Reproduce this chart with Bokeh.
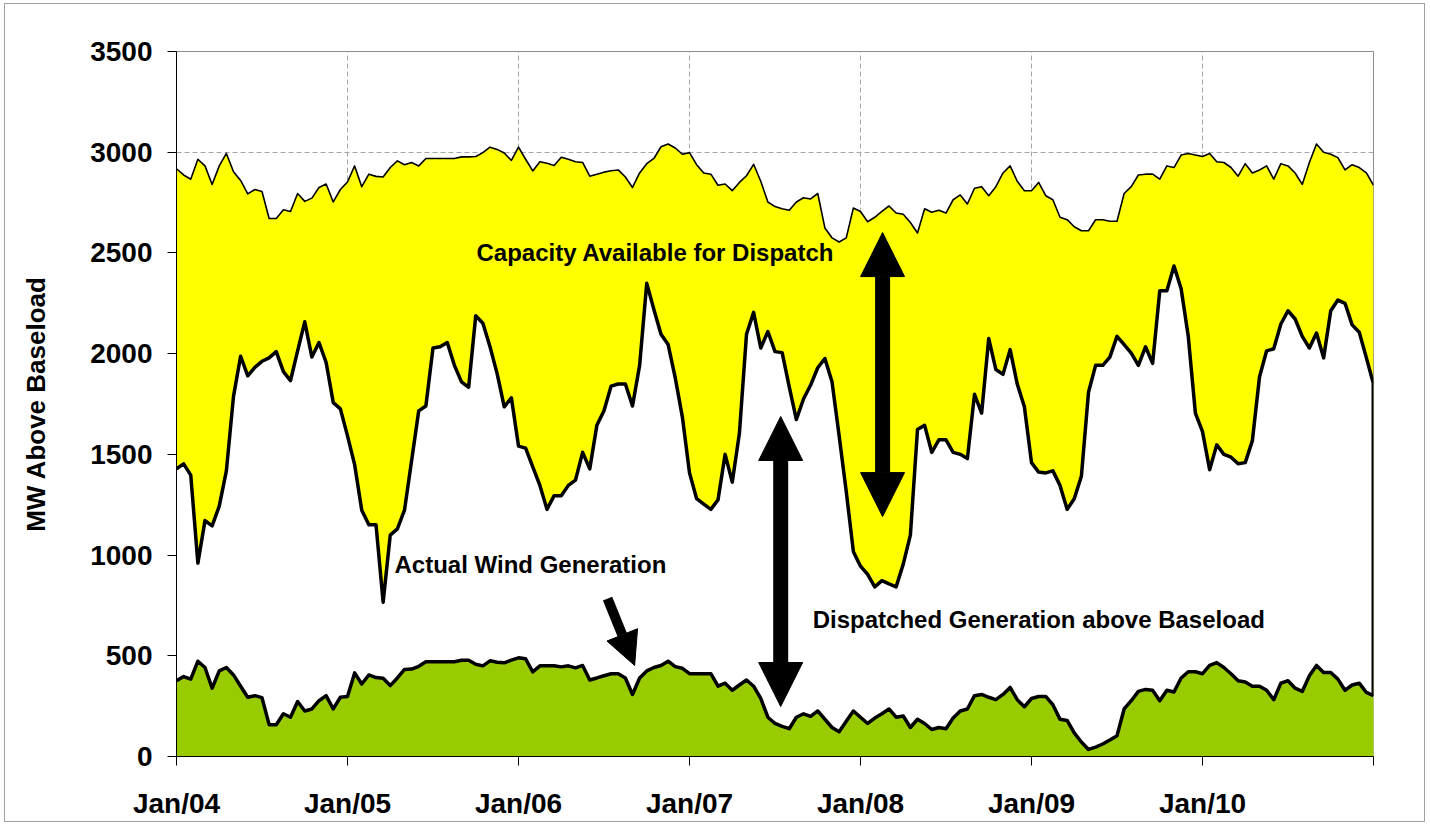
from bokeh.plotting import figure
from bokeh.models import Range1d, FixedTicker, Label, Arrow, NormalHead
from bokeh.embed import file_html
from bokeh.resources import INLINE

# ---- data (semi-monthly, Jan 2004 .. Jan 2011) ----
total_capacity = [
    2918, 2887, 2866, 2965, 2932, 2840, 2932, 2994, 2903, 2860, 2793, 2815, 2805, 2671, 2671, 2714,
    2706, 2795, 2756, 2772, 2825, 2842, 2753, 2815, 2852, 2932, 2829, 2891, 2880, 2877, 2924, 2957,
    2938, 2949, 2932, 2969, 2969, 2969, 2969, 2969, 2977, 2977, 2979, 2998, 3025, 3014, 2996, 2959,
    3025, 2965, 2907, 2953, 2945, 2934, 2975, 2965, 2953, 2949, 2881, 2891, 2901, 2908, 2912, 2877,
    2825, 2897, 2943, 2969, 3027, 3041, 3021, 2990, 2998, 2938, 2897, 2891, 2836, 2842, 2809, 2850,
    2883, 2940, 2856, 2753, 2730, 2719, 2712, 2753, 2774, 2768, 2795, 2624, 2575, 2554, 2575, 2723,
    2706, 2655, 2677, 2706, 2733, 2698, 2692, 2651, 2599, 2719, 2702, 2712, 2698, 2764, 2788, 2743,
    2821, 2829, 2784, 2829, 2897, 2932, 2856, 2809, 2809, 2850, 2784, 2764, 2677, 2665, 2630, 2610,
    2610, 2665, 2665, 2657, 2657, 2795, 2829, 2887, 2891, 2891, 2866, 2932, 2924, 2986, 2994, 2986,
    2979, 2994, 2953, 2949, 2924, 2881, 2943, 2897, 2912, 2932, 2866, 2943, 2932, 2897, 2840, 2949,
    3041, 3000, 2990, 2973, 2912, 2938, 2924, 2897, 2836,
]
wind_plus_dispatched = [
    1428, 1453, 1397, 960, 1171, 1145, 1243, 1418, 1788, 1987, 1890, 1932, 1962, 1979, 2010, 1911,
    1866, 2014, 2158, 1983, 2055, 1956, 1757, 1726, 1592, 1449, 1223, 1151, 1151, 766, 1099, 1130,
    1223, 1469, 1716, 1740, 2028, 2034, 2055, 1942, 1860, 1833, 2188, 2151, 2034, 1901, 1736, 1781,
    1541, 1531, 1438, 1346, 1227, 1295, 1295, 1346, 1372, 1510, 1428, 1644, 1716, 1839, 1849, 1849,
    1740, 1942, 2349, 2219, 2096, 2045, 1880, 1685, 1408, 1280, 1253, 1227, 1274, 1500, 1362, 1603,
    2096, 2205, 2028, 2110, 2010, 2005, 1835, 1673, 1775, 1844, 1930, 1976, 1860, 1592, 1315, 1017,
    945, 904, 842, 873, 857, 842, 955, 1099, 1623, 1644, 1510, 1572, 1572, 1510, 1500, 1479,
    1798, 1705, 2075, 1921, 1897, 2020, 1849, 1736, 1459, 1412, 1408, 1418, 1346, 1227, 1280, 1391,
    1808, 1942, 1942, 1983, 2086, 2045, 2003, 1942, 2034, 1952, 2312, 2312, 2435, 2322, 2086, 1705,
    1613, 1424, 1547, 1500, 1486, 1453, 1459, 1568, 1884, 2014, 2024, 2147, 2213, 2172, 2086, 2028,
    2102, 1979, 2213, 2266, 2250, 2143, 2106, 1979, 1849,
]
wind_generation = [
    376, 397, 384, 473, 442, 339, 425, 442, 405, 349, 294, 302, 292, 158, 158, 212,
    195, 273, 226, 236, 277, 302, 236, 294, 298, 415, 360, 405, 392, 388, 352, 390,
    432, 434, 448, 470, 470, 470, 470, 470, 478, 478, 458, 450, 475, 468, 465, 478,
    490, 485, 420, 450, 450, 450, 445, 450, 440, 452, 380, 390, 401, 411, 411, 390,
    308, 390, 425, 442, 452, 473, 446, 438, 411, 411, 411, 411, 349, 364, 329, 355,
    380, 349, 288, 195, 164, 150, 138, 195, 212, 199, 226, 185, 144, 123, 175, 226,
    195, 164, 191, 212, 236, 195, 201, 144, 185, 164, 134, 144, 138, 191, 226, 236,
    302, 308, 294, 282, 308, 343, 282, 247, 288, 298, 298, 257, 185, 179, 117, 72,
    35, 47, 62, 82, 103, 236, 277, 323, 333, 329, 277, 329, 320, 390, 421, 421,
    411, 452, 466, 442, 411, 376, 370, 349, 349, 329, 282, 364, 376, 339, 323, 401,
    452, 417, 417, 384, 329, 355, 364, 318, 302,
]
tick_labels = ["Jan/04", "Jan/05", "Jan/06", "Jan/07", "Jan/08", "Jan/09", "Jan/10"]
y_ticks = [0, 500, 1000, 1500, 2000, 2500, 3000, 3500]
periods_per_year = 24

x = list(range(len(total_capacity)))
n_last = x[-1]
x_ticks = list(range(0, n_last + 1, periods_per_year))
label_map = {t: (tick_labels[k] if k < len(tick_labels) else "") for k, t in enumerate(x_ticks)}

FONT = "Liberation Sans"

p = figure(frame_width=1197, frame_height=705,
           min_border_left=171, min_border_top=47, min_border_right=51, min_border_bottom=62,
           x_range=Range1d(0, n_last), y_range=Range1d(0, 3500),
           output_backend="svg", toolbar_location=None,
           background_fill_color="white", border_fill_color="white",
           styles={"border": "1px solid #a0a0a0", "margin-left": "4px", "margin-top": "3px"})

# stacked areas
p.varea(x=x, y1=0, y2=total_capacity, fill_color="#FFFF00")
p.varea(x=x, y1=0, y2=wind_plus_dispatched, fill_color="white")
p.varea(x=x, y1=0, y2=wind_generation, fill_color="#99CC00")

p.line(x, total_capacity, line_color="black", line_width=1.6, line_join="round")
p.line(x, wind_plus_dispatched, line_color="black", line_width=3.5, line_join="round")
p.line(x, wind_generation, line_color="black", line_width=3.5, line_join="round")
# closing edge of the dispatched area at the right end
p.segment(x0=[x[-1]], y0=[wind_plus_dispatched[-1]], x1=[x[-1]], y1=[wind_generation[-1]],
          line_color="black", line_width=4)

# axes
p.outline_line_color = "#8c8c8c"
p.outline_line_width = 1

p.xaxis.ticker = FixedTicker(ticks=x_ticks)
p.xaxis.major_label_overrides = label_map
p.yaxis.ticker = FixedTicker(ticks=y_ticks)
for ax in (p.xaxis[0], p.yaxis[0]):
    ax.axis_line_color = "black"
    ax.axis_line_width = 1
    ax.major_tick_line_color = "black"
    ax.major_tick_out = 9
    ax.major_tick_in = 0
    ax.minor_tick_line_color = None
    ax.major_label_text_font = FONT
    ax.major_label_text_font_style = "bold"
    ax.major_label_text_font_size = "28px"
    ax.major_label_text_color = "black"
p.xaxis.major_label_standoff = 22
p.yaxis.major_label_standoff = 15
p.yaxis.axis_label = "MW Above Baseload"
p.yaxis.axis_label_text_font = FONT
p.yaxis.axis_label_text_font_style = "bold"
p.yaxis.axis_label_text_font_size = "26px"
p.yaxis.axis_label_text_color = "black"
p.yaxis.axis_label_standoff = 36

for g in (p.xgrid[0], p.ygrid[0]):
    g.grid_line_color = "#a6a6a6"
    g.grid_line_dash = "5 3"
    g.grid_line_width = 1
p.xgrid.ticker = FixedTicker(ticks=x_ticks)
p.ygrid.ticker = FixedTicker(ticks=y_ticks)

# annotations
def add_label(xv, yv, txt):
    p.add_layout(Label(x=xv, y=yv, text=txt, text_font=FONT, text_font_style="bold",
                       text_font_size="24px", text_color="black", text_baseline="middle",
                       text_align="left"))

add_label(42.1, 2502, "Capacity Available for Dispatch")
add_label(30.6, 953, "Actual Wind Generation")
add_label(89.3, 680, "Dispatched Generation above Baseload")

def add_arrow(x0, y0, x1, y1, w, hs, both=True):
    head = dict(size=hs, fill_color="black", line_color="black", line_width=1)
    p.add_layout(Arrow(x_start=x0, y_start=y0, x_end=x1, y_end=y1,
                       line_color="black", line_width=w,
                       start=NormalHead(**head) if both else None,
                       end=NormalHead(**head)))

add_arrow(99.1, 2601, 99.1, 1191, 15, 44)
add_arrow(84.8, 1688, 84.8, 248, 15, 44)
add_arrow(60.5, 784, 64.3, 452, 10, 33, both=False)

open("out.html", "w").write(file_html(p, INLINE))
